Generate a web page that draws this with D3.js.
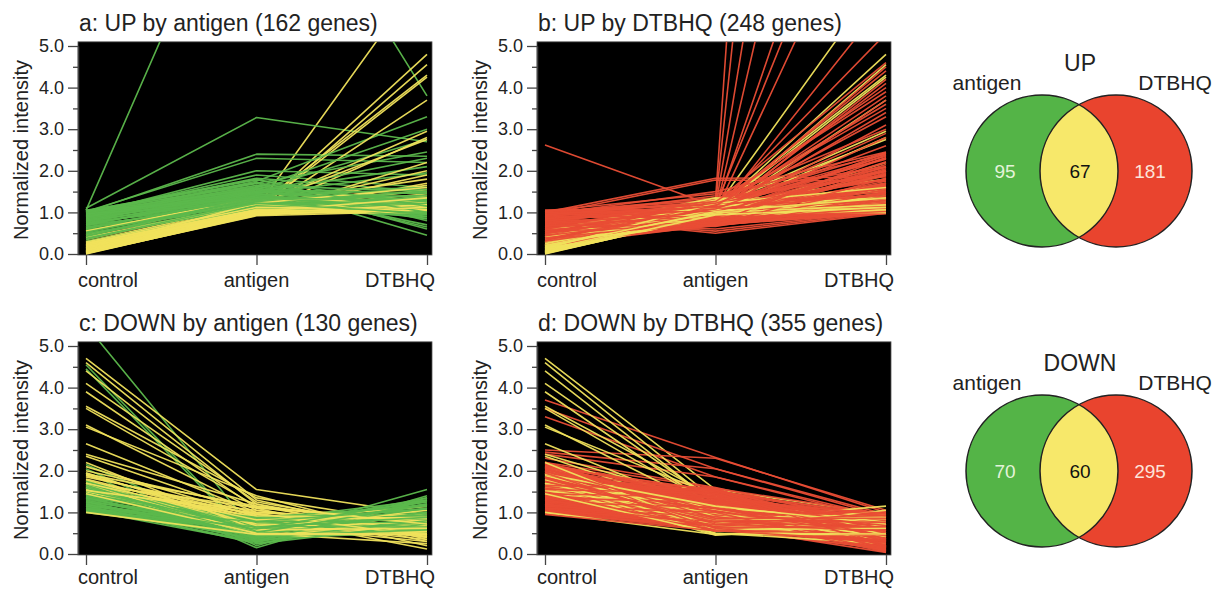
<!DOCTYPE html>
<html><head><meta charset="utf-8">
<script src="https://cdn.jsdelivr.net/npm/d3@7"></script>
<style>
body{margin:0;background:#fff;}
text{font-family:"Liberation Sans",Arial,Helvetica,sans-serif;}
</style></head><body>
<svg id="chart" width="1215" height="589"></svg>
<script>
// ---------------- data ----------------
const categories = ["control", "antigen", "DTBHQ"];
const yTicks = [0, 1, 2, 3, 4, 5];
const yMinorTicks = [0.5, 1.5, 2.5, 3.5, 4.5];
const panelTitles = ["a: UP by antigen (162 genes)", "b: UP by DTBHQ (248 genes)",
                     "c: DOWN by antigen (130 genes)", "d: DOWN by DTBHQ (355 genes)"];
const yAxisLabel = "Normalized intensity";

// genes UP by both (yellow, panels a & b): [control, antigen, DTBHQ]
const upShared = [
 [0.10,1.10,6.80],[0.05,1.05,4.80],[0.15,1.00,4.55],[0.08,1.12,4.30],[0.20,1.05,4.25],[0.12,0.98,3.70],
 [0.28,1.15,2.95],[0.04,1.00,2.80],[0.22,1.18,2.75],[0.02,0.95,2.20],[0.18,1.08,2.00],[0.11,1.00,1.90],
 [0.30,1.20,1.80],[0.00,0.95,1.70],[0.21,1.12,1.65],[0.06,1.02,1.55],[0.35,1.25,1.50],[0.14,1.05,1.45],
 [0.03,0.97,1.40],[0.26,1.15,1.35],[0.09,1.00,1.30],[0.45,1.30,1.28],[0.16,1.03,1.25],[0.01,0.93,1.20],
 [0.24,1.10,1.22],[0.07,0.98,1.15],[0.55,1.35,1.14],[0.13,1.01,1.10],[0.04,0.95,1.08],[0.29,1.12,1.06],
 [0.19,1.04,1.04],[0.02,0.92,1.03],[0.40,1.20,1.02],[0.11,0.99,1.00],[0.25,1.07,1.00],[0.08,0.96,1.06],
 [0.13,1.22,1.60],[0.21,0.99,1.18],[0.05,0.94,1.12],[0.17,1.02,1.35]
];
// genes UP by antigen only (green, panel a)
const upAntigenOnly = [
 [1.05,10.4,3.80],[1.10,3.28,2.70],[1.00,2.40,2.35],[1.02,2.30,2.20],[0.95,2.00,1.90],[0.98,1.90,1.60],
 [1.00,1.82,1.50],[0.90,1.75,3.30],[0.85,1.60,3.00],[0.80,1.55,2.75],[0.92,1.70,2.45],[0.75,1.50,2.30],
 [0.95,1.50,2.10],[0.90,1.45,1.95],
 [1.04,1.65,0.45],[1.00,1.70,0.60],[0.95,1.60,0.65],[0.88,1.55,0.70],[1.03,1.80,0.80],[0.70,1.45,0.85],
 [1.05,1.28,1.00],[1.00,1.40,1.20],[0.97,1.35,1.10],[0.93,1.45,1.30],[0.90,1.30,0.95],[0.86,1.40,1.15],
 [0.83,1.25,1.05],[0.80,1.35,1.40],[0.77,1.20,0.90],[0.74,1.30,1.25],[0.71,1.15,1.00],[0.68,1.25,1.50],
 [0.65,1.10,0.95],[0.62,1.20,1.10],[0.58,1.15,1.35],[0.55,1.30,1.20],[0.50,1.10,1.05],[0.45,1.20,1.30],
 [0.40,1.15,1.00],[0.35,1.25,1.15],[0.30,1.10,0.90],[1.02,1.55,1.45],[0.99,1.62,1.25],[0.96,1.48,1.60],
 [0.94,1.58,1.05],[0.91,1.52,1.35],[0.88,1.65,1.50],[0.84,1.45,0.90],[0.81,1.50,1.20],[0.78,1.42,1.55],
 [0.73,1.38,1.10],[0.69,1.48,1.30],[0.64,1.35,0.85],[0.60,1.40,1.00],[0.52,1.32,1.40],[0.48,1.28,0.95],
 [0.42,1.36,1.10],[0.38,1.22,1.20],[1.05,1.72,1.00],[1.01,1.78,1.15],[1.04,1.35,1.28],[0.97,1.22,0.98]
];
// genes UP by DTBHQ only (red, panel b)
const upDtbhqOnly = [
 [2.62,1.15,2.30],[1.00,1.82,1.85],[0.95,1.78,1.75],[0.90,0.50,0.98],[0.85,0.55,1.00],[0.75,0.60,1.02],
 [0.50,1.30,60.0],[0.80,1.20,40.0],[0.60,1.10,26.0],[0.90,1.00,18.7],[0.40,1.05,13.0],[0.70,1.15,11.3],
 [0.55,1.00,9.80],[0.30,0.95,6.10],[0.65,1.10,5.30],
 [0.98,1.25,4.60],[0.45,1.05,4.50],[0.85,1.10,4.40],[0.35,0.95,4.20],[0.70,1.00,4.10],[1.02,1.20,4.00],
 [0.60,1.05,3.80],[0.25,0.90,3.70],[0.92,1.15,3.60],[0.50,1.00,3.40],[0.80,1.10,3.30],[0.40,0.95,3.10],
 [1.00,1.30,3.00],[0.65,1.05,2.90],[0.30,0.92,2.80],
 [0.95,1.50,2.45],[0.88,1.40,2.40],[0.78,1.20,2.35],[0.68,1.10,2.30],[0.58,1.00,2.20],[1.04,1.45,2.10],
 [0.48,0.95,2.05],[0.38,0.88,2.00],[0.28,0.85,1.95],[0.99,1.35,1.90],[0.83,1.15,1.80],[0.73,1.05,1.70],
 [0.63,0.98,1.65],[0.53,0.92,1.60],[0.43,0.86,1.55],[0.33,0.80,1.50],[0.23,0.75,1.45],[1.03,1.10,1.40],
 [0.93,1.00,1.35],[0.87,0.95,1.30],[0.77,0.90,1.25],[0.67,0.85,1.20],[0.57,0.80,1.15],[0.47,0.78,1.10],
 [0.37,0.72,1.08],[0.27,0.70,1.05],[1.01,0.95,1.00],[0.97,0.88,0.97],[0.91,0.82,1.02],[0.81,0.76,1.00],
 [0.71,0.72,0.98],[0.61,0.70,1.03],[0.51,0.74,1.12],[0.41,0.80,1.22],[0.96,1.05,1.52],[0.86,1.00,1.62],
 [0.76,0.94,1.75],[0.66,0.90,1.88],[0.56,0.86,2.00],[1.05,0.98,1.18],[1.05,1.08,1.28],[0.20,0.70,0.99],
 [0.22,0.72,1.30],[0.32,0.78,1.62],[0.42,0.84,1.92],[0.52,0.90,2.22],[0.62,0.96,2.42],[0.72,1.02,1.15],
 [0.82,1.08,1.45],[0.92,1.14,1.78],[1.02,1.20,2.08],[0.26,0.68,1.10],[0.36,0.74,1.38],[0.46,0.80,1.70],
 [0.56,0.88,2.10],[0.66,0.94,2.38],[0.76,0.99,1.05],[0.86,1.04,1.58],[0.96,1.12,1.98],[1.04,1.18,2.28],
 [0.31,0.86,1.02],[0.44,0.92,1.25],[0.59,0.78,1.48],[0.74,0.84,1.68],[0.89,0.90,2.15],[0.99,0.80,1.12],
 [0.69,0.66,1.35],[0.54,0.70,1.82],[0.39,0.76,2.32],[0.84,1.22,2.44],[1.00,1.02,2.02],[0.79,1.16,3.50],
 [0.49,1.08,2.60],[0.94,1.26,3.90]
];
// genes DOWN by both (yellow, panels c & d)
const downShared = [
 [4.70,1.55,0.95],[4.60,1.30,0.40],[4.40,1.20,0.30],[4.10,1.25,0.55],[3.90,1.10,0.20],[3.55,1.35,0.70],
 [3.50,1.15,0.45],[3.10,1.05,0.60],[3.05,1.40,0.35],[2.65,1.00,0.80],[2.40,1.20,0.50],[2.35,0.95,0.65],
 [2.10,0.90,0.12],[2.00,1.10,0.85],[1.90,0.85,0.40],[1.85,1.00,0.75],[1.80,0.80,1.15],[1.75,0.95,0.60],
 [1.70,0.75,0.50],[1.65,0.90,0.90],[1.60,0.70,0.30],[1.58,0.85,0.70],[1.55,0.65,0.55],[1.52,1.05,0.45],
 [1.50,0.60,0.80],[1.54,0.78,0.35],[1.60,0.55,0.65],[1.66,0.88,0.95],[1.56,0.50,0.25],[1.64,0.72,0.60],
 [1.62,0.45,0.70],[1.72,0.48,0.55],[1.95,0.68,0.50],[1.68,1.12,0.78],[1.78,0.62,1.05],[1.88,0.92,0.85],
 [1.53,0.98,0.42],[1.70,0.82,0.88],[2.20,0.58,0.62],[1.92,1.15,0.72],[1.00,0.47,0.47],[1.45,0.50,0.48]
];
// genes DOWN by antigen only (green, panel c)
const downAntigenOnly = [
 [5.50,0.50,1.20],[4.55,0.30,1.30],[4.45,0.25,0.90],[2.15,0.40,1.55],[2.05,0.20,1.40],[1.95,0.15,1.35],
 [1.55,0.80,1.30],[1.50,0.75,1.25],[1.48,0.70,1.20],[1.45,0.65,1.15],[1.42,0.72,1.10],[1.40,0.60,1.05],
 [1.38,0.68,1.00],[1.35,0.55,0.95],[1.32,0.62,0.90],[1.30,0.50,0.85],[1.28,0.58,0.80],[1.25,0.45,0.75],
 [1.22,0.52,0.70],[1.20,0.40,0.65],[1.18,0.48,0.60],[1.15,0.35,0.55],[1.12,0.42,0.50],[1.10,0.30,0.85],
 [1.08,0.38,1.00],[1.05,0.28,1.10],[1.03,0.55,1.20],[1.00,0.50,0.95],[1.01,0.62,0.70],[1.02,0.70,1.25],
 [1.06,0.75,0.60],[1.14,0.82,0.90],[1.24,0.85,1.05],[1.34,0.88,1.15],[1.44,0.78,0.75],[1.52,0.66,0.65],
 [1.58,0.58,1.35],[1.62,0.46,1.00],[1.66,0.36,0.80],[1.70,0.55,1.10],[1.75,0.62,0.95],[1.16,0.25,0.72],
 [1.26,0.32,1.28],[1.36,0.44,0.58],[1.46,0.52,1.18],[1.04,0.65,0.88],[1.09,0.78,1.08],[1.19,0.60,1.30]
];
// genes DOWN by DTBHQ only (red, panel d)
const downDtbhqOnly = [
 [3.70,2.32,1.00],[3.50,2.05,0.95],[3.30,1.85,0.88],[2.50,2.30,1.05],[2.45,2.05,0.90],[2.40,1.85,0.82],
 [2.30,1.60,0.70],[2.20,1.58,0.95],[2.16,1.48,0.86],[2.12,1.44,0.74],[2.07,1.39,0.63],[2.03,1.33,0.57],
 [1.97,1.31,0.44],[1.92,1.26,0.36],[1.86,1.19,0.27],[1.81,1.14,0.16],[1.77,1.09,0.09],[1.71,1.06,0.92],
 [1.66,1.01,0.81],[1.61,0.96,0.68],[1.56,0.91,0.61],[1.51,0.84,0.52],[1.46,0.79,0.41],[1.41,0.76,0.31],
 [1.36,0.71,0.19],[1.31,0.66,0.11],[1.26,0.61,0.96],[1.21,0.57,0.84],[1.16,0.63,0.77],[1.11,0.69,0.64],
 [1.06,0.73,0.56],[1.01,0.81,0.46],[0.96,0.87,0.34],[0.98,0.93,0.26],[1.03,0.97,0.14],[1.07,1.05,0.06],
 [1.13,1.11,0.89],[1.17,1.15,0.79],[1.23,1.21,0.67],[1.27,1.27,0.59],[1.33,1.36,0.49],[1.37,1.41,0.37],
 [1.43,1.47,0.29],[1.47,1.53,0.17],[1.53,1.57,0.13],[1.57,1.49,0.93],[1.63,1.37,0.83],[1.67,1.29,0.71],
 [1.73,1.17,0.62],[1.79,1.07,0.51],[1.83,0.99,0.43],[1.87,0.89,0.33],[1.93,0.77,0.23],[1.99,0.69,0.15],
 [2.01,0.59,0.97],[2.09,1.53,0.61],[2.13,1.43,0.45],[2.18,1.31,0.31],[1.00,0.58,0.71],[1.04,0.64,0.91],
 [1.05,0.71,0.21],[0.97,0.76,0.58],[0.99,1.02,0.79],[1.14,0.88,0.52],[1.24,0.94,0.38],[1.34,1.00,0.98],
 [1.44,1.06,0.18],[1.54,1.12,0.66],[1.64,1.24,0.47],[1.74,1.35,0.87],[1.84,1.45,0.24],[1.94,1.55,0.55],
 [2.04,1.21,0.76],[2.14,0.96,0.41],[1.09,0.84,1.02],[1.19,0.67,0.04],[1.29,0.55,0.72],[1.39,1.16,0.08],
 [1.49,0.62,0.94],[1.59,0.74,0.28],
 [1.02,0.60,0.12],[1.08,0.66,0.33],[1.12,0.74,0.48],[1.18,0.80,0.62],[1.22,0.86,0.85],[1.28,0.92,0.05],
 [1.32,0.98,0.22],[1.38,1.04,0.42],[1.42,1.10,0.58],[1.48,1.16,0.74],[1.52,1.22,0.90],[1.58,1.28,0.10],
 [1.62,1.34,0.30],[1.68,1.40,0.50],[1.72,1.46,0.70],[1.78,1.52,0.88],[1.82,1.58,0.20],[1.88,1.50,0.40],
 [1.92,1.42,0.60],[1.98,1.34,0.80],[2.02,1.26,0.98],[2.08,1.18,0.14],[2.12,1.10,0.34],[2.17,1.02,0.54],
 [2.21,0.94,0.74],[0.98,0.66,0.94],[1.04,0.78,0.64],[1.10,0.90,0.28],[1.15,1.00,0.08],[1.25,1.12,0.44],
 [1.35,1.24,0.68],[1.45,1.36,0.92],[1.55,1.46,0.36],[1.65,1.54,0.16],[1.75,0.82,0.76],[1.85,0.72,0.56],
 [1.95,0.62,0.26],[2.06,0.86,0.86],[1.31,0.58,0.46],[1.41,0.64,0.66],[0.95,0.56,0.32],[1.20,0.70,0.98]
];
const vennTitles = ["UP", "DOWN"];
const vennSetNames = ["antigen", "DTBHQ"];
const vennUpCounts = [95, 67, 181];
const vennDownCounts = [70, 60, 295];

// ---------------- style ----------------
const GREEN = "#5cb84c", YELLOW = "#f0e15c", RED = "#e94d35";
const VGREEN = "#54b447", VYELLOW = "#f7e86a", VRED = "#e9442e";
const svg = d3.select("#chart");

// draw the two gene groups in an interleaved order (as in the original plot)
function interleave(a, ca, b, cb) {
  const out = []; let i = 0, j = 0;
  while (i < a.length || j < b.length) {
    if (j >= b.length || (i < a.length && i / a.length <= j / b.length)) out.push({v: a[i++], c: ca});
    else out.push({v: b[j++], c: cb});
  }
  return out;
}

const panels = [
  {title: panelTitles[0], left: 78, right: 432, off: 0,   lines: interleave(upAntigenOnly, GREEN, upShared, YELLOW)},
  {title: panelTitles[1], left: 537, right: 891, off: 0,  lines: interleave(upDtbhqOnly, RED, upShared, YELLOW)},
  {title: panelTitles[2], left: 78, right: 432, off: 300, lines: interleave(downAntigenOnly, GREEN, downShared, YELLOW)},
  {title: panelTitles[3], left: 537, right: 891, off: 300, lines: interleave(downDtbhqOnly, RED, downShared, YELLOW)}
];

panels.forEach((p, pi) => {
  const g = svg.append("g");
  const y = d3.scaleLinear().domain([0, 5]).range([254 + p.off, 46 + p.off]);
  const x = d3.scalePoint().domain(categories).range([p.left + 8, p.right - 5]);
  const top = y(5.1), bottom = y(0) + 1;

  g.append("rect").attr("x", p.left).attr("y", top).attr("width", p.right - p.left)
    .attr("height", bottom - top).attr("fill", "#000").attr("stroke", "#555").attr("stroke-width", 0.8);

  const clipId = "clip" + pi;
  svg.append("clipPath").attr("id", clipId).append("rect")
    .attr("x", p.left).attr("y", top).attr("width", p.right - p.left).attr("height", bottom - top);

  const line = d3.line().x((d, i) => x(categories[i])).y(d => y(d));
  g.append("g").attr("clip-path", `url(#${clipId})`)
    .selectAll("path").data(p.lines).join("path")
    .attr("d", d => line(d.v)).attr("fill", "none").attr("stroke", d => d.c)
    .attr("stroke-width", 1.6).attr("stroke-linejoin", "round").attr("stroke-opacity", 0.95);

  // y axis
  const ya = g.append("g").attr("transform", `translate(${p.left},0)`)
    .call(d3.axisLeft(y).tickValues(yTicks).tickSize(10).tickSizeOuter(0).tickPadding(4).tickFormat(d3.format(".1f")));
  ya.select(".domain").attr("stroke", "#444").attr("stroke-width", 1.5);
  ya.selectAll(".tick line").attr("stroke", "#444").attr("stroke-width", 1.3);
  ya.selectAll(".tick text").attr("font-size", 18).attr("fill", "#222")
    .style("font-family", '"Liberation Sans", Arial, sans-serif');
  const ym = g.append("g").attr("transform", `translate(${p.left},0)`)
    .call(d3.axisLeft(y).tickValues(yMinorTicks).tickSize(5).tickFormat(""));
  ym.select(".domain").remove();
  ym.selectAll(".tick line").attr("stroke", "#444").attr("stroke-width", 1.3);

  // x axis ticks
  const xa = g.append("g").attr("transform", `translate(0,${bottom})`)
    .call(d3.axisBottom(x).tickSize(10).tickFormat(""));
  xa.select(".domain").remove();
  xa.selectAll(".tick line").attr("stroke", "#444").attr("stroke-width", 1.3);

  // x labels
  const lblY = Math.min(y(0) + 33, 584);
  const anchors = ["start", "middle", "end"];
  const lx = [p.left, x(categories[1]), p.right + 3];
  categories.forEach((c, i) => {
    g.append("text").attr("x", lx[i]).attr("y", lblY).attr("text-anchor", anchors[i])
      .attr("font-size", 20).attr("fill", "#222").text(c);
  });

  // title
  g.append("text").attr("x", p.left + 1).attr("y", 31 + p.off).attr("font-size", 23)
    .attr("fill", "#222").text(p.title);

  // y label
  g.append("text").attr("transform", `translate(${p.left - 50},${(y(5) + y(0)) / 2}) rotate(-90)`)
    .attr("text-anchor", "middle").attr("font-size", 20).attr("fill", "#222").text(yAxisLabel);
});

// ---------------- Venn diagrams ----------------
const vennDefs = [
  {title: vennTitles[0], counts: vennUpCounts, cy: 171},
  {title: vennTitles[1], counts: vennDownCounts, cy: 471}
];
const cxL = 1042, cxR = 1116, R = 76;
vennDefs.forEach((v, vi) => {
  const g = svg.append("g");
  g.append("circle").attr("cx", cxL).attr("cy", v.cy).attr("r", R).attr("fill", VGREEN);
  g.append("circle").attr("cx", cxR).attr("cy", v.cy).attr("r", R).attr("fill", VRED);
  const cid = "vclip" + vi;
  svg.append("clipPath").attr("id", cid).append("circle").attr("cx", cxL).attr("cy", v.cy).attr("r", R);
  g.append("circle").attr("cx", cxR).attr("cy", v.cy).attr("r", R).attr("fill", VYELLOW)
    .attr("clip-path", `url(#${cid})`);
  [cxL, cxR].forEach(cx => g.append("circle").attr("cx", cx).attr("cy", v.cy).attr("r", R)
    .attr("fill", "none").attr("stroke", "#222").attr("stroke-width", 1.5));

  g.append("text").attr("x", 1080).attr("y", v.cy - 100).attr("text-anchor", "middle")
    .attr("font-size", 23).attr("fill", "#222").text(v.title);
  g.append("text").attr("x", 987).attr("y", v.cy - 81).attr("text-anchor", "middle")
    .attr("font-size", 21).attr("fill", "#222").text(vennSetNames[0]);
  g.append("text").attr("x", 1175).attr("y", v.cy - 81).attr("text-anchor", "middle")
    .attr("font-size", 21).attr("fill", "#222").text(vennSetNames[1]);

  const nx = [1005, 1080, 1150], nc = ["#e4f3da", "#111", "#fde4da"];
  v.counts.forEach((n, i) => {
    g.append("text").attr("x", nx[i]).attr("y", v.cy + 7).attr("text-anchor", "middle")
      .attr("font-size", 19).attr("fill", nc[i]).text(n);
  });
});
</script>
</body></html>
